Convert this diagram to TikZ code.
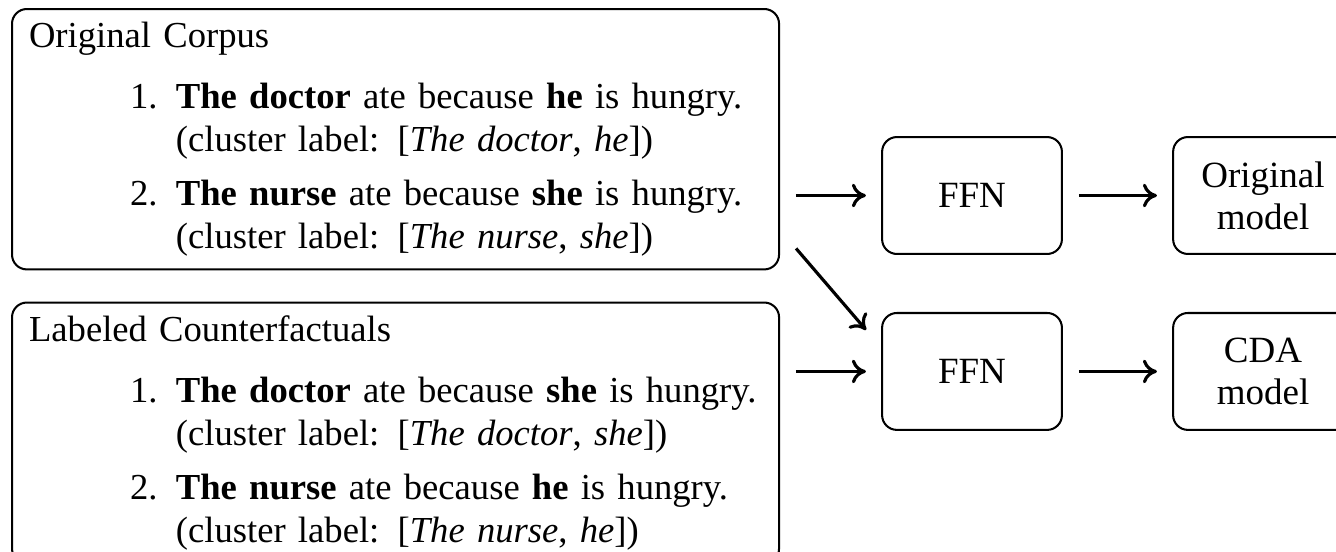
\documentclass[tikz,border=0pt]{standalone}
\usepackage{fontspec}
\setmainfont{Liberation Serif}
\usetikzlibrary{arrows.meta, positioning}

\begin{document}
\begin{tikzpicture}[
    x=0.27027pt, y=-0.27027pt,
    node distance=8.4pt,
    corpusbox/.style={rectangle, draw, rounded corners=4pt, line width=0.55pt, align=left, text width=198.1pt, inner xsep=4.6pt, inner ysep=3.5pt, font=\fontsize{9.9pt}{11.6pt}\selectfont},
    block/.style={rectangle, draw, rounded corners=4pt, line width=0.55pt, align=center, minimum width=48.6pt, minimum height=31.6pt, inner sep=1pt, font=\fontsize{10pt}{11.4pt}\selectfont},
    arrow/.style={-{To[length=3.8pt,width=6.4pt]}, line width=0.85pt, shorten <=4.3pt, shorten >=4.1pt}
]
    \useasboundingbox (0,0) rectangle (1336,551);

    \node[corpusbox, anchor=north west] (orig) at (11,8) {Original Corpus\\[5pt]
        \mbox{\hspace*{27.3pt}\makebox[12.4pt][l]{1.}\textbf{The doctor} ate because \textbf{he} is hungry.}\\
        \mbox{\hspace*{39.7pt}(cluster label: [\textit{The doctor}, \textit{he}])}\\[3pt]
        \mbox{\hspace*{27.3pt}\makebox[12.4pt][l]{2.}\textbf{The nurse} ate because \textbf{she} is hungry.}\\
        \mbox{\hspace*{39.7pt}(cluster label: [\textit{The nurse}, \textit{she}])}};
    \node[corpusbox, below=of orig] (cf) {Labeled Counterfactuals\\[5pt]
        \mbox{\hspace*{27.3pt}\makebox[12.4pt][l]{1.}\textbf{The doctor} ate because \textbf{she} is hungry.}\\
        \mbox{\hspace*{39.7pt}(cluster label: [\textit{The doctor}, \textit{she}])}\\[3pt]
        \mbox{\hspace*{27.3pt}\makebox[12.4pt][l]{2.}\textbf{The nurse} ate because \textbf{he} is hungry.}\\
        \mbox{\hspace*{39.7pt}(cluster label: [\textit{The nurse}, \textit{he}])}};

    \node[block] (ffna) at (972,195.5) {FFN};
    \node[block, below=15.4pt of ffna] (ffnb) {FFN};
    \node[block, right=29.5pt of ffna] (origm) {Original\\model};
    \node[block, right=29.5pt of ffnb] (cdam) {CDA\\model};

    \draw[arrow] (orig.east |- ffna) -- (ffna);
    \draw[arrow] (ffna) -- (origm);
    \draw[arrow] (cf.east |- ffnb) -- (ffnb);
    \draw[arrow] (ffnb) -- (cdam);
    \draw[arrow, shorten <=0pt, shorten >=0pt] ([shift={(16,-22)}]orig.south east) -- ([shift={(-15,18)}]ffnb.north west);
\end{tikzpicture}
\end{document}
